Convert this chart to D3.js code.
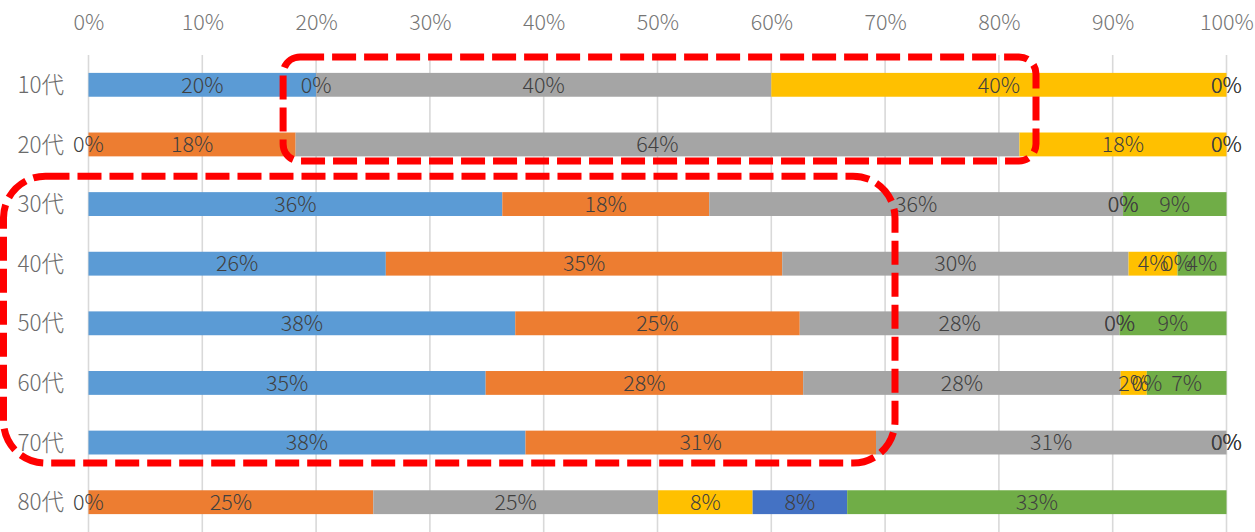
<!DOCTYPE html>
<html>
<head>
<meta charset="utf-8">
<script src="https://cdn.jsdelivr.net/npm/d3@7"></script>
<style>
  html, body { margin: 0; padding: 0; background: #fff; }
  svg { display: block; }
  text { font-family: "Noto Sans CJK JP", "Noto Sans", sans-serif; font-weight: 300; }
</style>
</head>
<body>
<svg id="chart" width="1255" height="532"></svg>
<script>
// ---- data (percent of each age group) ----
const categories = ["10代", "20代", "30代", "40代", "50代", "60代", "70代", "80代"];
const seriesNames = ["s1", "s2", "s3", "s4", "s5", "s6"];
const seriesColors = ["#5B9BD5", "#ED7D31", "#A5A5A5", "#FFC000", "#4472C4", "#70AD47"];
const s1 = [20.0, 0.0, 36.4, 26.1, 37.5, 34.9, 38.4, 0.0];
const s2 = [0.0, 18.2, 18.2, 34.8, 25.0, 27.9, 30.8, 25.0];
const s3 = [40.0, 63.6, 36.4, 30.4, 28.1, 27.9, 30.8, 25.0];
const s4 = [40.0, 18.2, 0.0, 4.3, 0.0, 2.3, 0.0, 8.3];
const s5 = [0.0, 0.0, 0.0, 0.0, 0.0, 0.0, 0.0, 8.3];
const s6 = [0.0, 0.0, 9.1, 4.3, 9.4, 7.0, 0.0, 33.3];
const tickValues = [0, 0.1, 0.2, 0.3, 0.4, 0.5, 0.6, 0.7, 0.8, 0.9, 1.0];

// annotation boxes (x in share of 100%, rows spanned)
const annoFrom = ["10代", "30代"];
const annoTo = ["20代", "70代"];
const annoX0 = [0.171, -0.0747];
const annoX1 = [0.8326, 0.7087];

// ---- build ----
const seriesValues = [s1, s2, s3, s4, s5, s6];
const rows = categories.map((c, i) => {
  const o = { cat: c };
  seriesNames.forEach((s, j) => o[s] = seriesValues[j][i]);
  return o;
});

const svg = d3.select("#chart");
const plot = { left: 88.5, right: 1226.5, top: 55, bottom: 532 };

const x = d3.scaleLinear().domain([0, 1]).range([plot.left, plot.right]);
const y = d3.scaleBand().domain(categories).range([plot.top, plot.bottom])
  .paddingInner(0.6).paddingOuter(0.3);

const stack = d3.stack().keys(seriesNames).offset(d3.stackOffsetExpand);
const stacked = stack(rows);

// gridlines
svg.append("g").selectAll("line").data(tickValues).join("line")
  .attr("x1", d => x(d)).attr("x2", d => x(d))
  .attr("y1", plot.top).attr("y2", plot.bottom)
  .attr("stroke", "#d9d9d9").attr("stroke-width", 1.6);

// top axis labels
const axis = d3.axisTop(x).tickValues(tickValues).tickFormat(d3.format(".0%")).tickSize(0).tickPadding(0);
const ag = svg.append("g").attr("transform", "translate(0,29.5)").call(axis);
ag.select(".domain").remove();
ag.selectAll("text").attr("font-size", 21.5).attr("fill", "#757575")
  .attr("dy", 0).style("font-family", '"Noto Sans CJK JP", sans-serif').style("font-weight", 300);

// category labels
const yAxis = d3.axisLeft(y).tickSize(0).tickPadding(0);
const yg = svg.append("g").attr("transform", "translate(64,0)").call(yAxis);
yg.select(".domain").remove();
yg.selectAll("text").attr("font-size", 22.5).attr("fill", "#6b6b6b")
  .attr("dy", "0.36em").style("font-family", '"Noto Sans CJK JP", sans-serif').style("font-weight", 300);

// bars
const layers = svg.append("g").selectAll("g").data(stacked).join("g")
  .attr("fill", (d, i) => seriesColors[i]);
layers.selectAll("rect").data(d => d).join("rect")
  .attr("x", d => x(d[0]))
  .attr("width", d => Math.max(0, x(d[1]) - x(d[0])))
  .attr("y", d => y(d.data.cat))
  .attr("height", y.bandwidth());

// data labels
const labG = svg.append("g");
stacked.forEach((layer, i) => {
  labG.selectAll(null).data(layer).join("text")
    .attr("x", d => x((d[0] + d[1]) / 2))
    .attr("y", d => y(d.data.cat) + y.bandwidth() / 2)
    .attr("dy", "0.36em")
    .attr("text-anchor", "middle")
    .attr("font-size", 21.5)
    .attr("fill", "#404040")
    .text(d => Math.round(d.data[layer.key]) + "%");
});

// annotations
const radii = [17, 42];
annoFrom.forEach((f, i) => {
  const top = y(f) - 16;
  const bottom = y(annoTo[i]) + y.bandwidth() + (i === 0 ? 4.6 : 8.6);
  const x0 = x(annoX0[i]), x1 = x(annoX1[i]);
  svg.append("rect")
    .attr("x", x0).attr("y", top)
    .attr("width", x1 - x0).attr("height", bottom - top)
    .attr("rx", radii[i]).attr("ry", radii[i])
    .attr("fill", "none").attr("stroke", "#FF0000")
    .attr("stroke-width", 7).attr("stroke-dasharray", "24 8");
});
</script>
</body>
</html>
